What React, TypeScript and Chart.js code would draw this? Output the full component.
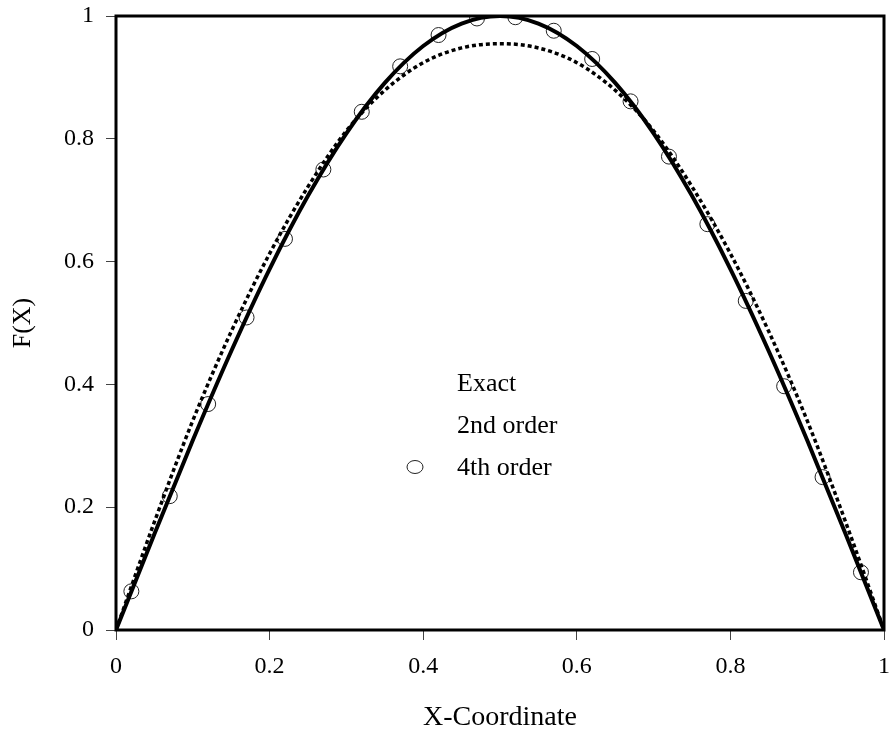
import React, { useEffect, useRef } from "react";
import { Chart, registerables } from "chart.js";

Chart.register(...registerables);

const exactX = [0, 0.05, 0.1, 0.15, 0.2, 0.25, 0.3, 0.35, 0.4, 0.45, 0.5, 0.55, 0.6, 0.65, 0.7, 0.75, 0.8, 0.85, 0.9, 0.95, 1];
const exactY = [0, 0.1564, 0.309, 0.454, 0.5878, 0.7071, 0.809, 0.891, 0.9511, 0.9877, 1, 0.9877, 0.9511, 0.891, 0.809, 0.7071, 0.5878, 0.454, 0.309, 0.1564, 0];
const secondY = [0, 0.176, 0.341, 0.486, 0.613, 0.722, 0.813, 0.879, 0.924, 0.948, 0.955, 0.948, 0.924, 0.879, 0.813, 0.722, 0.613, 0.486, 0.341, 0.176, 0];
const fourthX = [0.02, 0.07, 0.12, 0.17, 0.22, 0.27, 0.32, 0.37, 0.42, 0.47, 0.52, 0.57, 0.62, 0.67, 0.72, 0.77, 0.82, 0.87, 0.92, 0.97];
const fourthY = [0.063, 0.218, 0.368, 0.509, 0.637, 0.75, 0.844, 0.918, 0.969, 0.996, 0.998, 0.976, 0.93, 0.861, 0.771, 0.661, 0.536, 0.397, 0.249, 0.094];
const tickLabels = ["0", "0.2", "0.4", "0.6", "0.8", "1"];
const seriesNames = ["Exact", "2nd order", "4th order"];
const xTitle = "X-Coordinate";
const yTitle = "F(X)";

const FONT = "'Liberation Serif', 'Times New Roman', serif";

const framePlugin = {
  id: "frame",
  afterDraw(chart: any) {
    const { ctx, chartArea } = chart;
    ctx.save();
    ctx.strokeStyle = "#000";
    ctx.lineWidth = 3;
    ctx.strokeRect(chartArea.left, chartArea.top, chartArea.right - chartArea.left, chartArea.bottom - chartArea.top);
    const lx = chartArea.left + 341;
    const ly = [384, 426, 468];
    ctx.fillStyle = "#000";
    ctx.font = `26px ${FONT}`;
    ctx.textBaseline = "middle";
    ctx.textAlign = "left";
    seriesNames.forEach((n, i) => ctx.fillText(n, lx, ly[i]));
    ctx.lineWidth = 1;
    ctx.strokeStyle = "#222";
    ctx.beginPath();
    ctx.ellipse(lx - 42, ly[2] - 1, 8, 6.5, 0, 0, Math.PI * 2);
    ctx.stroke();
    ctx.restore();
  },
};

export default function App() {
  const ref = useRef<HTMLCanvasElement>(null);
  useEffect(() => {
    document.body.style.margin = "0";
    const chart = new Chart(ref.current!, {
      type: "scatter",
      data: {
        datasets: [
          {
            label: seriesNames[0],
            data: exactX.map((x, i) => ({ x, y: exactY[i] })),
            showLine: true,
            borderColor: "#000",
            borderWidth: 4,
            pointRadius: 0,
            cubicInterpolationMode: "monotone",
          },
          {
            label: seriesNames[1],
            data: exactX.map((x, i) => ({ x, y: secondY[i] })),
            showLine: true,
            borderColor: "#000",
            borderWidth: 3.5,
            borderDash: [4, 3],
            pointRadius: 0,
            cubicInterpolationMode: "monotone",
          },
          {
            label: seriesNames[2],
            data: fourthX.map((x, i) => ({ x, y: fourthY[i] })),
            showLine: false,
            borderColor: "#222",
            backgroundColor: "rgba(0,0,0,0)",
            borderWidth: 1,
            pointRadius: 7.5,
            pointStyle: "circle",
          },
        ],
      },
      options: {
        animation: false,
        responsive: false,
        layout: { autoPadding: false, padding: { left: 0, right: 5, top: 16, bottom: 0 } },
        plugins: { legend: { display: false }, tooltip: { enabled: false } },
        scales: {
          x: {
            type: "linear",
            min: 0,
            max: 1,
            ticks: { stepSize: 0.2, color: "#000", font: { family: FONT, size: 24 }, padding: 12, callback: (_v: any, i: number) => tickLabels[i] },
            grid: { drawOnChartArea: false, drawTicks: true, tickLength: 10, color: "#444", lineWidth: 1 },
            border: { display: false },
            title: { display: true, text: xTitle, color: "#000", font: { family: FONT, size: 28 }, padding: { top: 14, bottom: 0 } },
            afterFit: (s: any) => { s.height = 104; s.paddingLeft = 0; s.paddingRight = 0; },
          },
          y: {
            type: "linear",
            min: 0,
            max: 1,
            ticks: { stepSize: 0.2, color: "#000", font: { family: FONT, size: 24 }, padding: 12, callback: (_v: any, i: number) => tickLabels[i] },
            grid: { drawOnChartArea: false, drawTicks: true, tickLength: 10, color: "#444", lineWidth: 1 },
            border: { display: false },
            title: { display: true, text: yTitle, color: "#000", font: { family: FONT, size: 26 }, padding: { top: 8, bottom: 6 } },
            afterFit: (s: any) => { s.width = 116; s.paddingTop = 0; s.paddingBottom = 0; },
          },
        },
      },
      plugins: [framePlugin],
    } as any);
    return () => chart.destroy();
  }, []);
  return <canvas ref={ref} width={889} height={734} style={{ display: "block" }} />;
}
